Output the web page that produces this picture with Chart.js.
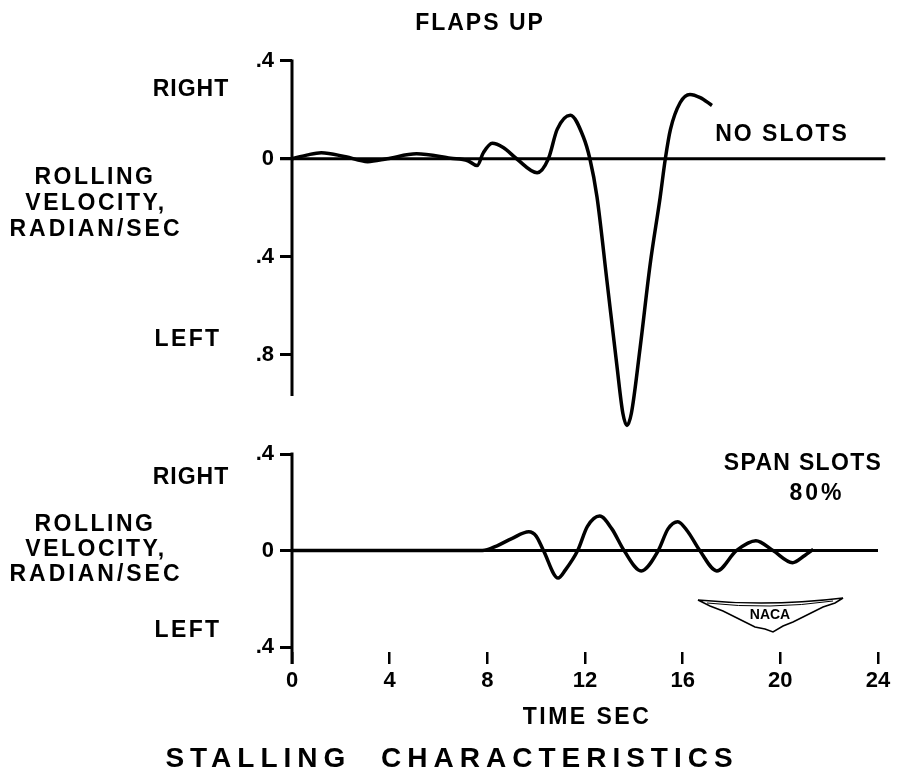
<!DOCTYPE html>
<html>
<head>
<meta charset="utf-8">
<script src="https://cdn.jsdelivr.net/npm/chart.js@4/dist/chart.umd.min.js"></script>
<style>
  body { margin: 0; background: #fff; }
  #wrap { position: relative; width: 900px; height: 777px; overflow: hidden;
          font-family: "Liberation Sans", Arial, sans-serif; font-weight: bold; color: #000; }
  .lbl { position: absolute; transform: translate(-50%, -50%); white-space: nowrap;
         font-size: 23px; line-height: 1; letter-spacing: 2px; }
  canvas { position: absolute; left: 0; }
  #naca { position: absolute; left: 695px; top: 595px; }
</style>
</head>
<body>
<div id="wrap">
  <canvas id="topChart" width="900" height="452" style="top:0"></canvas>
  <canvas id="bottomChart" width="900" height="347" style="top:430px"></canvas>

  <div class="lbl" style="left:480px;top:22px">FLAPS UP</div>

  <div class="lbl" style="left:191px;top:88px;letter-spacing:1px">RIGHT</div>
  <div class="lbl" style="left:95px;top:176px;letter-spacing:2.5px">ROLLING</div>
  <div class="lbl" style="left:96px;top:202px;letter-spacing:2.5px">VELOCITY,</div>
  <div class="lbl" style="left:96px;top:228px;letter-spacing:3px">RADIAN/SEC</div>
  <div class="lbl" style="left:188px;top:338px;letter-spacing:2.4px">LEFT</div>
  <div class="lbl" style="left:782px;top:133px">NO SLOTS</div>

  <div class="lbl" style="left:191px;top:476px;letter-spacing:1px">RIGHT</div>
  <div class="lbl" style="left:95px;top:523px;letter-spacing:2.5px">ROLLING</div>
  <div class="lbl" style="left:96px;top:548px;letter-spacing:2.5px">VELOCITY,</div>
  <div class="lbl" style="left:96px;top:573px;letter-spacing:3px">RADIAN/SEC</div>
  <div class="lbl" style="left:188px;top:629px;letter-spacing:2.4px">LEFT</div>
  <div class="lbl" style="left:803px;top:462px;letter-spacing:1.3px">SPAN SLOTS</div>
  <div class="lbl" style="left:817px;top:492px;letter-spacing:3px">80%</div>

  <div class="lbl" style="left:587px;top:716px;letter-spacing:2.5px">TIME SEC</div>
  <div class="lbl" style="left:452px;top:758px;font-size:28px;letter-spacing:6px;word-spacing:16px">STALLING CHARACTERISTICS</div>

  <svg id="naca" width="152" height="42" viewBox="0 0 152 42">
    <path d="M3,5 Q75,12 148,3 L140,8 L128,12 L118,17 L108,22 L98,27 L88,31 L78,37 L70,34 L60,32 L50,27 L40,22 L28,16 L15,11 Z"
          fill="none" stroke="#000" stroke-width="1.5"/>
    <path d="M12,8 Q75,15 138,6" fill="none" stroke="#000" stroke-width="1"/>
    <text x="75" y="24" text-anchor="middle" font-family="Liberation Sans, Arial, sans-serif"
          font-size="14" font-weight="bold">NACA</text>
  </svg>
</div>

<script>
// Flaps up, no slots: time (sec) and rolling velocity (radian/sec, right = +)
const timeNoSlots = [0, 0.6, 1.2, 2.2, 3.1, 3.9, 5.1, 6.5, 7.2, 7.58, 7.84, 8.2, 8.65, 9.2, 10.04, 10.5,
  10.86, 11.4, 11.93, 12.2, 12.49, 12.9, 13.3, 13.55, 13.72, 13.9, 14.26, 14.67, 15.08, 15.29, 15.5,
  15.9, 16.3, 16.72, 17.2];
const rollNoSlots = [0, 0.015, 0.025, 0.008, -0.012, 0, 0.02, 0.002, -0.008, -0.028, 0.025, 0.063, 0.046, 0, -0.057, 0,
  0.12, 0.178, 0.09, 0, -0.155, -0.5, -0.84, -1.04, -1.09, -1.04, -0.77, -0.43, -0.156, 0, 0.12,
  0.23, 0.263, 0.25, 0.218];

// Span slots 80%
const timeSpanSlots = [0, 7.8, 8.4, 9.0, 9.7, 10.0, 10.3, 10.9, 11.2, 11.7, 12.1, 12.6, 13.1, 13.6, 14.3,
  15.0, 15.4, 15.8, 16.2, 16.7, 17.4, 18.2, 19.0, 19.7, 20.5, 21.0, 21.35];
const rollSpanSlots = [0, 0, 0.02, 0.05, 0.078, 0.06, 0, -0.114, -0.08, 0, 0.1, 0.143, 0.09, 0, -0.084,
  0, 0.09, 0.12, 0.08, 0, -0.084, 0, 0.041, 0, -0.05, -0.02, 0.005];

const yTicksTop = [0.4, 0, -0.4, -0.8];
const yTicksBottom = [0.4, 0, -0.4];
const xTicks = [0, 4, 8, 12, 16, 20, 24];

const font = { family: '"Liberation Sans", Arial, sans-serif', size: 22, weight: 'bold' };

function tickLabel(v) {
  if (v === 0) return '0';
  return '.' + Math.round(Math.abs(v) * 10);
}

// zero line and the y axis line through time 0
const axisLines = {
  id: 'axisLines',
  beforeDatasetsDraw(chart, args, opts) {
    const ctx = chart.ctx;
    const x = chart.scales.x, y = chart.scales.y;
    const x0 = x.getPixelForValue(0);
    const y0 = y.getPixelForValue(0);
    ctx.save();
    ctx.strokeStyle = '#000';
    ctx.lineWidth = 3;
    ctx.beginPath();
    ctx.moveTo(x0 - 12, y0);
    ctx.lineTo(x.getPixelForValue(opts.zeroEnd), y0);
    ctx.stroke();
    const yEnd = opts.axisTo === null ? chart.chartArea.bottom + 12 : y.getPixelForValue(opts.axisTo);
    ctx.beginPath();
    ctx.moveTo(x0, y.getPixelForValue(opts.axisFrom) - 1.5);
    ctx.lineTo(x0, yEnd);
    ctx.stroke();
    ctx.restore();
  }
};

function makeChart(id, times, values, yMin, yMax, yTicks, showX, padding, axisOpts) {
  return new Chart(document.getElementById(id).getContext('2d'), {
    type: 'line',
    data: {
      datasets: [{
        data: times.map((t, i) => ({ x: t, y: values[i] })),
        borderColor: '#000',
        borderWidth: 3.5,
        pointRadius: 0,
        fill: false,
        cubicInterpolationMode: 'monotone',
        clip: false
      }]
    },
    options: {
      responsive: false,
      animation: false,
      layout: { padding: padding },
      plugins: { legend: { display: false }, tooltip: { enabled: false }, axisLines: axisOpts },
      scales: {
        x: {
          type: 'linear', min: 0, max: 24, display: showX,
          afterBuildTicks: s => { s.ticks = xTicks.map(v => ({ value: v })); },
          afterFit: s => { if (showX) s.height = 60; },
          border: { display: false },
          grid: { drawOnChartArea: false, drawTicks: true, tickLength: 12, color: '#000', lineWidth: 2.5 },
          ticks: { color: '#000', font: font, padding: 4, maxRotation: 0, autoSkip: false }
        },
        y: {
          min: yMin, max: yMax,
          afterBuildTicks: s => { s.ticks = yTicks.map(v => ({ value: v })); },
          afterFit: s => { s.width = 60; },
          border: { display: false },
          grid: { drawOnChartArea: false, drawTicks: true, tickLength: 12, color: '#000', lineWidth: 3 },
          ticks: { color: '#000', font: font, padding: 6, autoSkip: false, callback: v => tickLabel(v) }
        }
      }
    },
    plugins: [axisLines]
  });
}

makeChart('topChart', timeNoSlots, rollNoSlots, -1.12, 0.42, yTicksTop, false,
  { left: 232, right: 22, top: 56, bottom: 10 },
  { zeroEnd: 24.3, axisFrom: 0.4, axisTo: -0.97 });

makeChart('bottomChart', timeSpanSlots, rollSpanSlots, -0.42, 0.42, yTicksBottom, true,
  { left: 232, right: 22, top: 18, bottom: 65 },
  { zeroEnd: 24, axisFrom: 0.4, axisTo: null });
</script>
</body>
</html>
